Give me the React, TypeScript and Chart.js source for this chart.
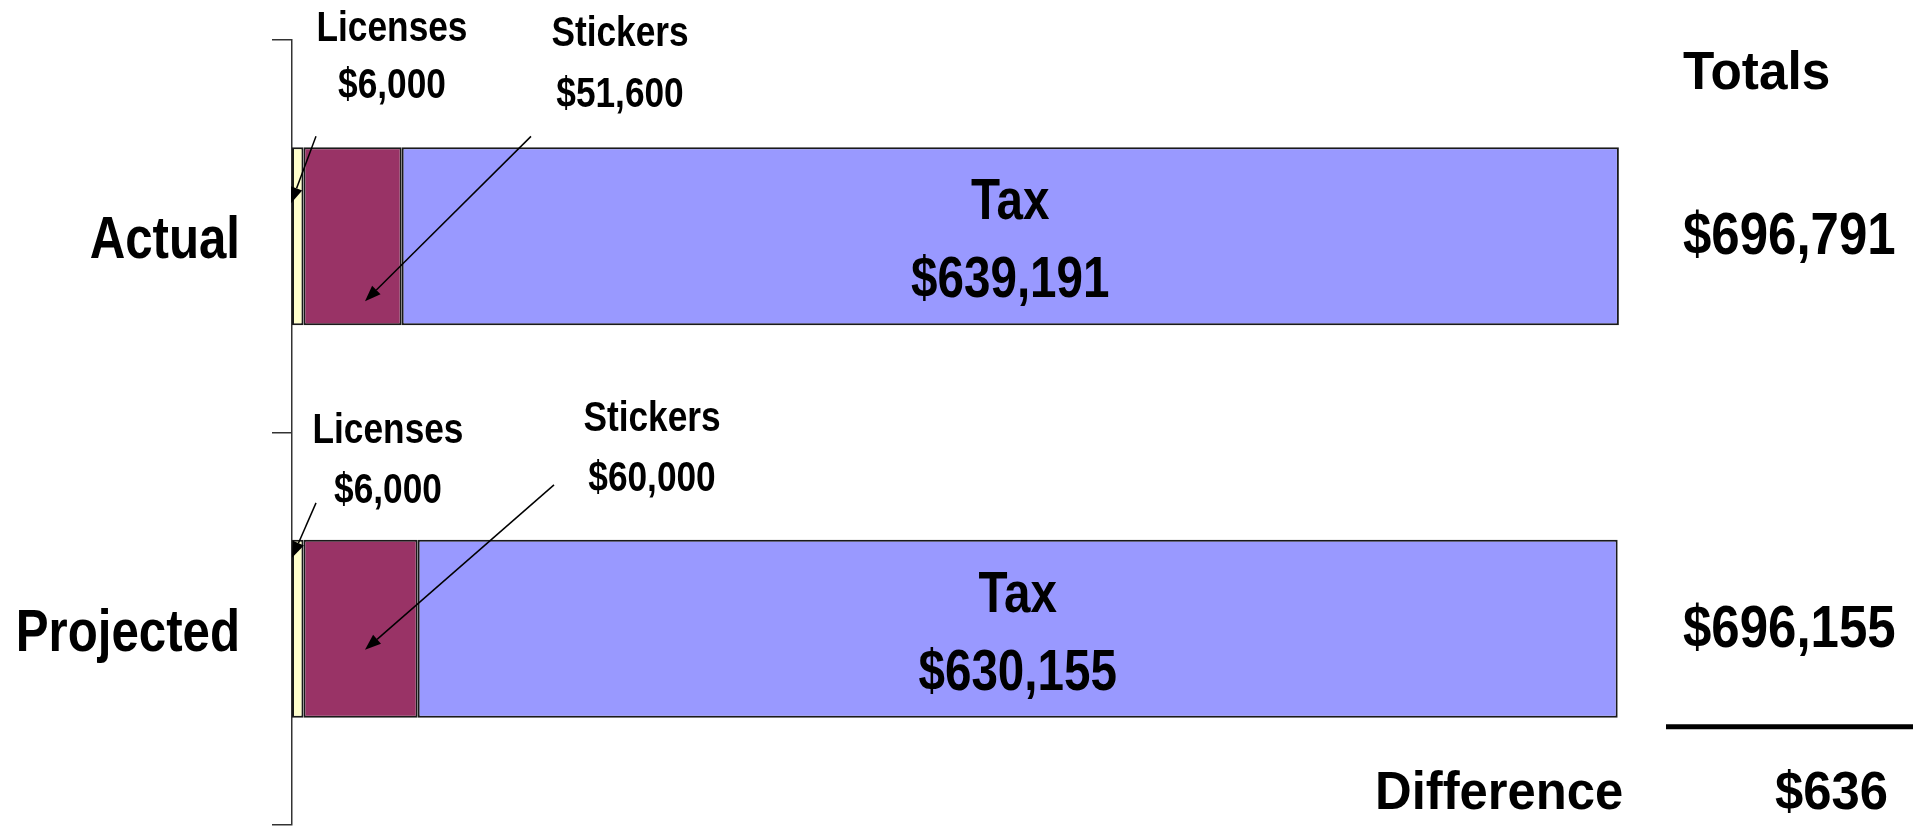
import React, { useEffect, useRef } from 'react';
import { Chart, registerables } from 'chart.js';

Chart.register(...registerables);

// ---- data ----
const categories = ['Actual', 'Projected'];
const seriesNames = ['Licenses', 'Stickers', 'Tax'];
const licenses = [6000, 6000];
const stickers = [51600, 60000];
const tax = [639191, 630155];
const xMax = 700000;

// ---- styles ----
const colors = ['#FFFFCC', '#993366', '#9999FF'];
const FONT = '"Liberation Sans", Arial, Helvetica, sans-serif';
const NARROW_X = 0.82; // horizontal squeeze to imitate Arial Narrow

const fmt = (v: number) => '$' + v.toLocaleString('en-US');

// callout layout: offsets (px) relative to chart-area left (x) and bar top (y)
const callouts = [
  {
    lic: { cx: 100, b1: -106, b2: -49, tail: [24, -11], tip: [-1, 56] },
    stk: { cx: 328, b1: -101, b2: -40, tail: [239, -11], tip: [73, 154] },
  },
  {
    lic: { cx: 96, b1: -97, b2: -37, tail: [24, -37], tip: [0, 18] },
    stk: { cx: 360, b1: -109, b2: -49, tail: [262, -55], tip: [73, 110] },
  },
];

function text(
  ctx: CanvasRenderingContext2D,
  s: string,
  x: number,
  y: number,
  size: number,
  sx: number,
  align: CanvasTextAlign
) {
  ctx.save();
  ctx.font = `bold ${size}px ${FONT}`;
  ctx.textAlign = align;
  ctx.textBaseline = 'alphabetic';
  ctx.translate(x, y);
  ctx.scale(sx, 1);
  ctx.fillText(s, 0, 0);
  ctx.restore();
}

function arrow(ctx: CanvasRenderingContext2D, x1: number, y1: number, x2: number, y2: number) {
  const ang = Math.atan2(y2 - y1, x2 - x1);
  const len = 16;
  const half = 6;
  const bx = x2 - len * Math.cos(ang);
  const by = y2 - len * Math.sin(ang);
  ctx.beginPath();
  ctx.moveTo(x1, y1);
  ctx.lineTo(bx, by);
  ctx.stroke();
  ctx.beginPath();
  ctx.moveTo(x2, y2);
  ctx.lineTo(bx + half * Math.sin(ang), by - half * Math.cos(ang));
  ctx.lineTo(bx - half * Math.sin(ang), by + half * Math.cos(ang));
  ctx.closePath();
  ctx.fill();
}

const annotations = {
  id: 'annotations',
  afterDatasetsDraw(chart: any) {
    const ctx: CanvasRenderingContext2D = chart.ctx;
    const area = chart.chartArea;
    const metas = [0, 1, 2].map((d) => chart.getDatasetMeta(d));
    ctx.save();
    ctx.fillStyle = '#000';
    ctx.strokeStyle = '#000';
    ctx.lineWidth = 1.5;
    const totals: number[] = [];
    categories.forEach((cat, i) => {
      const taxEl = metas[2].data[i];
      const { x, y, base, height } = taxEl.getProps(['x', 'y', 'base', 'height'], true);
      const top = y - height / 2;
      const bottom = y + height / 2;

      // category label (left of the axis)
      text(ctx, cat, area.left - 52, y + 22, 60, NARROW_X, 'right');

      // Tax label inside bar
      const tcx = (x + base) / 2;
      text(ctx, seriesNames[2], tcx, y - 17, 58, NARROW_X, 'center');
      text(ctx, fmt(tax[i]), tcx, y + 61, 58, NARROW_X, 'center');

      // callouts
      const c = callouts[i];
      text(ctx, seriesNames[0], area.left + c.lic.cx, top + c.lic.b1, 43, NARROW_X, 'center');
      text(ctx, fmt(licenses[i]), area.left + c.lic.cx, top + c.lic.b2, 43, NARROW_X, 'center');
      text(ctx, seriesNames[1], area.left + c.stk.cx, top + c.stk.b1, 43, NARROW_X, 'center');
      text(ctx, fmt(stickers[i]), area.left + c.stk.cx, top + c.stk.b2, 43, NARROW_X, 'center');
      arrow(ctx, area.left + c.lic.tail[0], top + c.lic.tail[1], area.left + c.lic.tip[0], top + c.lic.tip[1]);
      arrow(ctx, area.left + c.stk.tail[0], top + c.stk.tail[1], area.left + c.stk.tip[0], top + c.stk.tip[1]);

      // totals
      const total = licenses[i] + stickers[i] + tax[i];
      totals.push(total);
      text(ctx, fmt(total), area.right + 58, y + 18, 60, 0.85, 'left');
      if (i === categories.length - 1) {
        ctx.lineWidth = 5;
        ctx.beginPath();
        ctx.moveTo(area.right + 41, bottom + 9);
        ctx.lineTo(area.right + 288, bottom + 9);
        ctx.stroke();
        ctx.lineWidth = 1.5;
      }
    });
    text(ctx, 'Totals', area.right + 58, 89, 54, 0.95, 'left');
    text(ctx, 'Difference', area.right - 250, 809, 54, 0.94, 'left');
    text(ctx, fmt(totals[0] - totals[1]), area.right + 150, 809, 54, 0.94, 'left');
    ctx.restore();
  },
};

export default function App() {
  const ref = useRef<HTMLCanvasElement>(null);
  useEffect(() => {
    const data = [licenses, stickers, tax];
    const chart = new Chart(ref.current as HTMLCanvasElement, {
      type: 'bar',
      data: {
        labels: categories,
        datasets: seriesNames.map((name, d) => ({
          label: name,
          data: data[d],
          backgroundColor: colors[d],
          borderColor: '#1a1a1a',
          borderWidth: 2,
          borderSkipped: false,
          barPercentage: 0.453,
          categoryPercentage: 1,
        })),
      },
      options: {
        indexAxis: 'y',
        animation: false,
        responsive: true,
        maintainAspectRatio: false,
        layout: { padding: { left: 0, right: 296, top: 40, bottom: 2 } },
        plugins: {
          legend: { display: false },
          tooltip: { enabled: false },
          title: { display: false },
        },
        scales: {
          x: {
            stacked: true,
            min: 0,
            max: xMax,
            display: false,
          },
          y: {
            stacked: true,
            offset: true,
            grid: {
              offset: true,
              drawOnChartArea: false,
              drawTicks: true,
              tickLength: 20,
              color: '#333',
              lineWidth: 1.5,
            },
            border: { display: true, color: '#333', width: 1.5 },
            ticks: { display: false },
            afterFit: (s: any) => {
              s.width = 292;
            },
          },
        },
      },
      plugins: [annotations],
    } as any);
    return () => chart.destroy();
  }, []);
  return (
    <div style={{ position: 'fixed', left: 0, top: 0, width: 1921, height: 827, background: '#fff' }}>
      <canvas ref={ref} />
    </div>
  );
}
